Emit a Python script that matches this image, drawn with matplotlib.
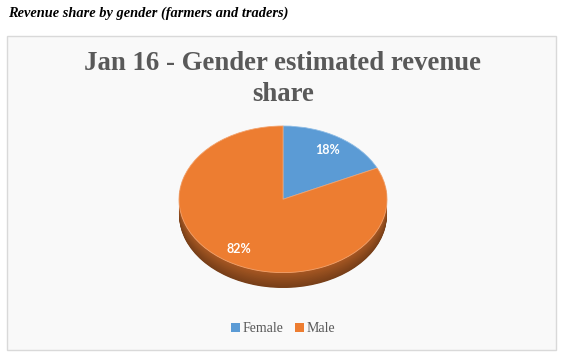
import matplotlib.pyplot as plt
import numpy as np
from matplotlib.patches import Rectangle, Patch
from matplotlib.colors import to_rgb

# chart data
labels = ['Female', 'Male']
shares = [18, 82]
colors = ['#5b9bd5', '#ed7d31']
caption = 'Revenue share by gender (farmers and traders)'
title = 'Jan 16 - Gender estimated revenue\nshare'

W, H = 562, 357


def mix(c1, c2, t):
    a, b = np.array(to_rgb(c1)), np.array(to_rgb(c2))
    return tuple(a + (b - a) * t)


fig = plt.figure(figsize=(W / 100, H / 100), dpi=100)

# chart frame (behind the pie axes)
fig.patches.append(Rectangle((7 / W, 1 - 350 / H), 549 / W, 314 / H, transform=fig.transFigure,
                             facecolor='#f9f9f9', edgecolor='#d9d9d9', linewidth=1, zorder=-1))

fig.text(8 / W, 1 - 13 / H, caption, family='Liberation Serif', fontweight='bold',
         fontstyle='italic', fontsize=10.4, va='center', ha='left')
fig.text(283 / W, 1 - 79 / H, title, family='Liberation Serif', fontweight='bold',
         fontsize=19.3, color='#595959', ha='center', va='center', linespacing=1.3)

# pie axes, squashed vertically to look tilted
depth = 0.21
ax = fig.add_axes([179 / W, 1 - 288 / H, 208 / W, 162 / H])

# side of the 3d pie, drawn as stacked darker layers
n = 24
for i, off in enumerate(np.linspace(depth, 0, n, endpoint=False)):
    t = i / (n - 1)
    side = [mix(mix(c, '#000000', 0.5), mix(c, '#000000', 0.3), t) for c in colors]
    ax.pie(shares, colors=side, startangle=90, counterclock=False, center=(0, -off),
           wedgeprops=dict(linewidth=0))

wedges, texts, autotexts = ax.pie(shares, colors=colors, startangle=90, counterclock=False,
                                  autopct='%1.0f%%', pctdistance=0.8,
                                  textprops=dict(color='white', fontweight='bold', fontsize=9,
                                                 family='Lato'),
                                  wedgeprops=dict(linewidth=0.6, edgecolor='#f3a36e'))
wedges[0].set_edgecolor('#8fbde6')

ax.set_aspect('auto')
ax.set_xlim(-1, 1)
ax.set_ylim(-1 - depth, 1)
ax.axis('off')

handles = [Patch(facecolor=c, edgecolor='none') for c in colors]
fig.legend(handles, labels, loc='center', bbox_to_anchor=(283 / W, 1 - 329 / H), ncol=2,
           frameon=False, handlelength=0.65, handleheight=0.65, handletextpad=0.2,
           columnspacing=0.8, prop=dict(family='Liberation Serif', size=10),
           labelcolor='#595959')

fig.savefig('out.png', dpi=100)
